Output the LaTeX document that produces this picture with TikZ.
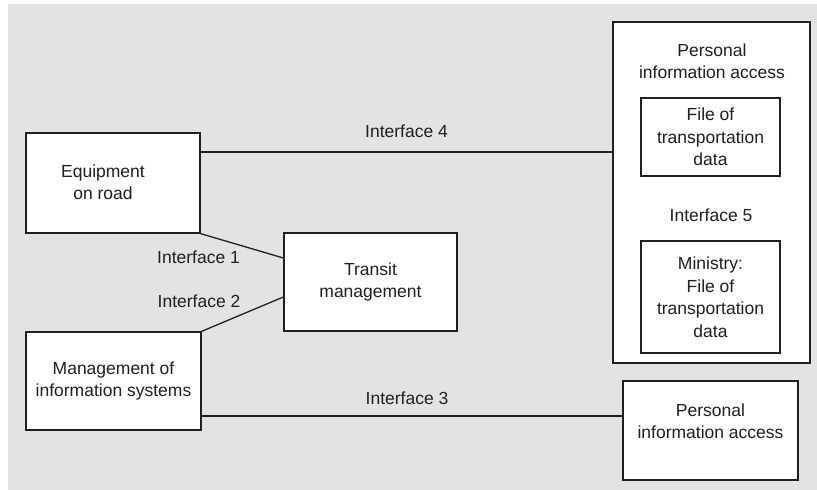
\documentclass[tikz,border=0pt]{standalone}
\usepackage{fontspec}
\setmainfont{Liberation Sans}
\definecolor{bggray}{RGB}{227,227,227}
\definecolor{inkgray}{RGB}{35,31,32}
\begin{document}
\begin{tikzpicture}[x=1pt,y=-1pt]
		\begin{scope}
		
		\tikzstyle{mybox}=[rectangle,
		draw=inkgray,
		fill=white,
		line width=1.3pt,
		inner sep=0pt,
		align=center,
		text=inkgray,
		font=\fontsize{17.5}{22.5}\selectfont
		]
		\tikzstyle{mytext}=[inner sep=0pt,
		align=center,
		text=inkgray,
		font=\fontsize{17.5}{22.5}\selectfont
		]
		\tikzstyle{myline}=[draw=inkgray, line width=1.3pt]
		
		\useasboundingbox (0,0) rectangle (817,490);
		\fill[bggray] (8,4) rectangle (817,490);
		
		\coordinate (pequip) at (113, 183);
		\coordinate (ptransit) at (370.5, 282);
		\coordinate (pmis) at (113.5, 381);
		\coordinate (pbig) at (711.5, 192.5);
		\coordinate (pfile1) at (710.5, 137);
		\coordinate (pfile2) at (710.5, 297);
		\coordinate (ppia) at (710.5, 430.5);
		
		\node[mybox, minimum width=174, minimum height=100] (equip) at (pequip) {};
		\node[mytext] (equiptxt) at (103, 182) {Equipment\\on road};
		\node[mybox, minimum width=173, minimum height=98] (transit) at (ptransit) {Transit\\management};
		\node[mybox, minimum width=175, minimum height=98] (mis) at (pmis) {Management of\\information systems};
		\node[mybox, minimum width=197, minimum height=341] (big) at (pbig) {};
		\node[mytext] (bigtxt) at (712, 61) {Personal\\information access};
		\node[mybox, minimum width=139, minimum height=78] (file1) at (pfile1) {File of\\transportation\\data};
		\node[mybox, minimum width=139, minimum height=112] (file2) at (pfile2) {Ministry:\\File of\\transportation\\data};
		\node[mybox, minimum width=175, minimum height=99] (pia) at (ppia) {};
		\node[mytext] (piatxt) at (710.5, 421) {Personal\\information access};
		
		\coordinate (pl4) at (406, 152);
		\coordinate (pl3) at (412, 416);
		\coordinate (pl1) at (370, 258);
		\coordinate (pl2) at (370, 297);
		
		\draw[myline] (equip.east |- pl4) -- (big.west |- pl4);
		\draw[myline] (mis.east |- pl3) -- (pia.west |- pl3);
		\draw[myline] (equip.south east) -- (transit.west |- pl1);
		\draw[myline] (mis.north east) -- (transit.west |- pl2);
		
		\node[mytext] (if4) at (406.5, 131) {Interface 4};
		\node[mytext] (if3) at (407, 398) {Interface 3};
		\node[mytext] (if1) at (198.5, 257) {Interface 1};
		\node[mytext] (if2) at (199, 301) {Interface 2};
		\node[mytext] (if5) at (711, 215) {Interface 5};
		
		\end{scope}
		\end{tikzpicture}
\end{document}
